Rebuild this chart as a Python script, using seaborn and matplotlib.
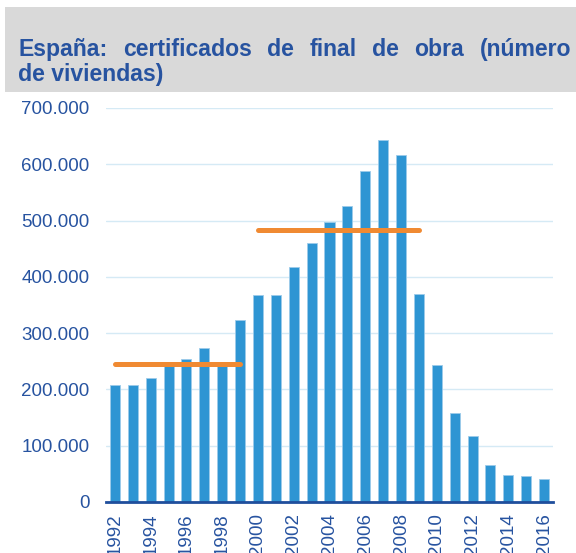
import matplotlib
matplotlib.use("Agg")
import matplotlib.pyplot as plt
import seaborn as sns
import pandas as pd
from matplotlib.patches import Rectangle
from matplotlib.ticker import FuncFormatter, FixedLocator

years = list(range(1992, 2017))
viviendas = [208000, 207000, 221000, 241000, 254000, 273000, 241000, 323000,
             368000, 367000, 418000, 460000, 498000, 526000, 588000, 643000,
             616000, 369000, 243000, 159000, 117000, 66000, 48000, 47000, 41000]

# medias de periodo (lineas naranjas)
periodo_inicio = [1992, 2000]
periodo_fin = [1999, 2009]
periodo_media = [245000, 483000]

title_line1 = "España: certificados de final de obra (número"
title_line2 = "de viviendas)"

blue_bar = "#2E95D3"
blue_text = "#2753A0"
axis_blue = "#1F4E9C"
orange = "#F08A32"

sns.set_style("white")
plt.rcParams["font.family"] = ["Liberation Sans", "DejaVu Sans"]

df = pd.DataFrame({"year": [str(y) for y in years], "viviendas": viviendas})

fig = plt.figure(figsize=(5.76, 5.53), dpi=100)
ax = fig.add_axes([106 / 576, 51 / 553, 447 / 576, 394 / 553])

sns.barplot(data=df, x="year", y="viviendas", color=blue_bar, saturation=1,
            width=0.56, edgecolor="#9ccbea", linewidth=0.6, ax=ax, zorder=2)

for a, b, m in zip(periodo_inicio, periodo_fin, periodo_media):
    ax.plot([years.index(a), years.index(b)], [m, m], color=orange, lw=3.6,
            solid_capstyle="round", zorder=3)

ax.set_ylim(0, 700000)
ax.set_xlim(-0.5, len(years) - 0.5)
ax.set_yticks(range(0, 700001, 100000))
ax.yaxis.set_major_formatter(FuncFormatter(lambda v, p: f"{int(v):,}".replace(",", ".")))
ax.grid(axis="y", color="#d5eaf5", lw=1.0, zorder=0)
ax.set_axisbelow(True)

ax.set_xticks([i for i, y in enumerate(years) if y % 2 == 0])
ax.set_xticklabels([str(y) for y in years if y % 2 == 0], rotation=90)
ax.xaxis.set_minor_locator(FixedLocator([i - 0.5 for i in range(len(years) + 1)]))
ax.tick_params(axis="x", which="major", length=0, pad=8, labelsize=13.5, labelcolor=blue_text)
ax.tick_params(axis="x", which="minor", length=4, width=1.6, color=axis_blue, direction="out")
ax.tick_params(axis="y", length=0, pad=12, labelsize=13.5, labelcolor=blue_text)
for lab in ax.get_xticklabels():
    lab.set_va("top")

ax.set_xlabel("")
ax.set_ylabel("")
for s in ["top", "right", "left"]:
    ax.spines[s].set_visible(False)
ax.spines["bottom"].set_color(axis_blue)
ax.spines["bottom"].set_linewidth(2.0)
ax.spines["bottom"].set_zorder(4)

# banda gris del titulo
fig.patches.append(Rectangle((5 / 576, 1 - 92 / 553), 571 / 576, 85 / 553,
                             transform=fig.transFigure, facecolor="#d9d9d9",
                             edgecolor="none", zorder=0))

# primera linea justificada
words = title_line1.split(" ")
renderer = fig.canvas.get_renderer()
x_left, x_right = 18 / 576, 571 / 576
y1 = 1 - 56 / 553
texts = []
widths = []
for w in words:
    t = fig.text(0, y1, w, fontsize=16.6, fontweight="bold", color=blue_text,
                 ha="left", va="baseline")
    bb = t.get_window_extent(renderer)
    texts.append(t)
    widths.append(bb.width / fig.bbox.width)
gap = (x_right - x_left - sum(widths)) / (len(words) - 1)
x = x_left
for t, w in zip(texts, widths):
    t.set_x(x)
    x += w + gap
fig.text(x_left, 1 - 81 / 553, title_line2, fontsize=16.6, fontweight="bold",
         color=blue_text, ha="left", va="baseline")

fig.savefig("out.png", dpi=100)
